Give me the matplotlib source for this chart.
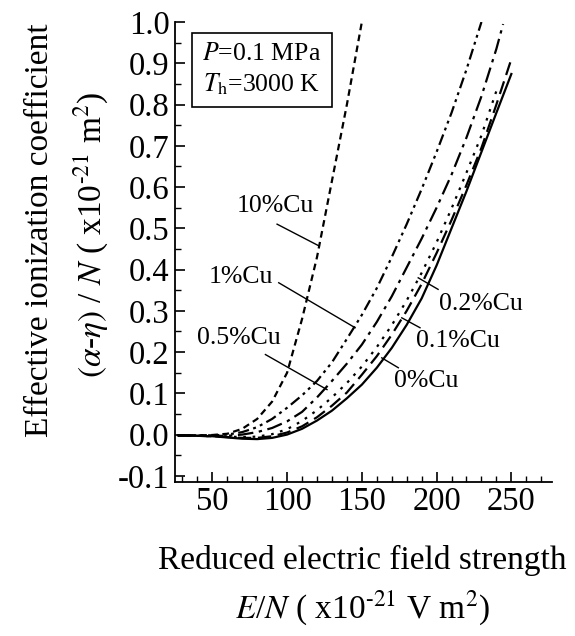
import matplotlib
matplotlib.use("Agg")
import matplotlib.pyplot as plt
from matplotlib.ticker import MultipleLocator

plt.rcParams['font.family'] = ['Liberation Serif', 'DejaVu Serif']
plt.rcParams['mathtext.fontset'] = 'stix'

# ---- data ----
x_grid = [27, 40, 50, 60, 70, 80, 90, 100, 110, 120, 130, 140, 150,
          160, 170, 180, 190, 200, 210, 220, 230, 240, 250]

cu0_y = [-0.002, -0.003, -0.004, -0.007, -0.010, -0.011, -0.008, 0.000, 0.014,
         0.034, 0.058, 0.088, 0.121, 0.162, 0.210, 0.266, 0.330, 0.410, 0.500,
         0.590, 0.685, 0.780, 0.874]
cu01_y = [-0.002, -0.003, -0.004, -0.006, -0.008, -0.008, -0.004, 0.005, 0.020,
          0.042, 0.070, 0.102, 0.145, 0.190, 0.242, 0.300, 0.365, 0.440, 0.520,
          0.605, 0.695, 0.800, 0.910]
cu02_x = x_grid[:-1]
cu02_y = [-0.002, -0.003, -0.004, -0.005, -0.006, -0.005, 0.001, 0.013, 0.033,
          0.059, 0.090, 0.125, 0.165, 0.212, 0.265, 0.325, 0.392, 0.466, 0.548,
          0.635, 0.725, 0.833]
cu05_x = x_grid[:-1] + [244.5]
cu05_y = [-0.002, -0.002, -0.003, -0.003, 0.000, 0.006, 0.016, 0.032, 0.055,
          0.090, 0.130, 0.172, 0.218, 0.273, 0.335, 0.405, 0.475, 0.550, 0.630,
          0.720, 0.820, 0.935, 0.995]
cu1_x = x_grid[:-2]
cu1_y = [-0.002, -0.002, -0.002, 0.000, 0.006, 0.018, 0.038, 0.065, 0.095,
         0.130, 0.175, 0.232, 0.290, 0.355, 0.430, 0.510, 0.595, 0.685, 0.780,
         0.885, 1.000]
cu10_x = x_grid[:13]
cu10_y = [-0.002, -0.002, -0.001, 0.002, 0.014, 0.038, 0.080, 0.150, 0.280,
          0.430, 0.615, 0.800, 1.000]

labels = ["0%Cu", "0.1%Cu", "0.2%Cu", "0.5%Cu", "1%Cu", "10%Cu"]

fig = plt.figure(figsize=(5.75, 6.36), dpi=100)
ax = fig.add_axes([0.3043, 0.2421, 0.6552, 0.7233])

lw = 1.6
ax.plot(x_grid, cu0_y, color='black', lw=lw, linestyle='-')
ax.plot(x_grid, cu01_y, color='black', lw=lw, linestyle=(0, (6, 3)))
ax.plot(cu02_x, cu02_y, color='black', lw=lw, linestyle=(0, (1.2, 3)))
ax.plot(cu05_x, cu05_y, color='black', lw=lw, linestyle=(0, (7, 2.5, 1.5, 2.5)))
ax.plot(cu1_x, cu1_y, color='black', lw=lw, linestyle=(0, (5, 2, 1.3, 2, 1.3, 2)))
ax.plot(cu10_x, cu10_y, color='black', lw=lw, linestyle=(0, (3, 2)))

ax.set_xlim(25, 277)
ax.set_ylim(-0.115, 1.0)
ax.spines['top'].set_visible(False)
ax.spines['right'].set_visible(False)
for s in ['left', 'bottom']:
    ax.spines[s].set_linewidth(1.3)

ax.xaxis.set_major_locator(MultipleLocator(50))
ax.xaxis.set_minor_locator(MultipleLocator(10))
ax.yaxis.set_major_locator(MultipleLocator(0.1))
ax.yaxis.set_minor_locator(MultipleLocator(0.05))
ax.tick_params(which='major', direction='in', length=7, width=1.2, labelsize=23.5, pad=4)
ax.tick_params(axis='x', which='major', pad=3)
ax.tick_params(which='minor', direction='in', length=4, width=1.0)
ax.yaxis.set_major_formatter(matplotlib.ticker.FormatStrFormatter('%.1f'))

# info box
ax.text(0.231, 0.896, "$P$=0.1 MPa\n$T_{\\rm h}$=3000 K", transform=ax.transAxes,
        ha='center', va='center', fontsize=18.5, linespacing=1.35,
        bbox=dict(boxstyle='square,pad=0.4', fc='white', ec='black', lw=1.2))

# curve labels with leader lines
ann = [
    ("10%Cu", (92.2, 0.553), (93.3, 0.51), (121.5, 0.457)),
    ("1%Cu", (68.9, 0.381), (94.4, 0.368), (145.5, 0.259)),
    ("0.5%Cu", (67.5, 0.233), (85.5, 0.194), (126.7, 0.109)),
    ("0.2%Cu", (229.5, 0.316), (201, 0.352), (187.7, 0.380)),
    ("0.1%Cu", (214.2, 0.226), (188.9, 0.259), (176.7, 0.283)),
    ("0%Cu", (192.9, 0.131), (174.4, 0.162), (163.3, 0.186)),
]
for txt, tpos, p1, p2 in ann:
    ax.text(tpos[0], tpos[1], txt, fontsize=18.5, ha='center', va='center')
    ax.plot([p1[0], p2[0]], [p1[1], p2[1]], color='black', lw=1.0)

fig.text(0.0696, 0.638, "Effective ionization coefficient", rotation=90,
         ha='center', va='center', fontsize=24)
fig.text(0.157, 0.6305, "$(\\alpha$-$\\eta)$ / $N$ ( x10$^{\\text{-21}}$ m$^2$)", rotation=90,
         ha='center', va='center', fontsize=24)
fig.text(0.63, 0.1195, "Reduced electric field strength", ha='center', va='center',
         fontsize=24)
fig.text(0.631, 0.044, "$E$/$N$ ( x10$^{\\text{-21}}$ V m$^2$)", ha='center', va='center',
         fontsize=24)

fig.savefig("out.png", dpi=100)
